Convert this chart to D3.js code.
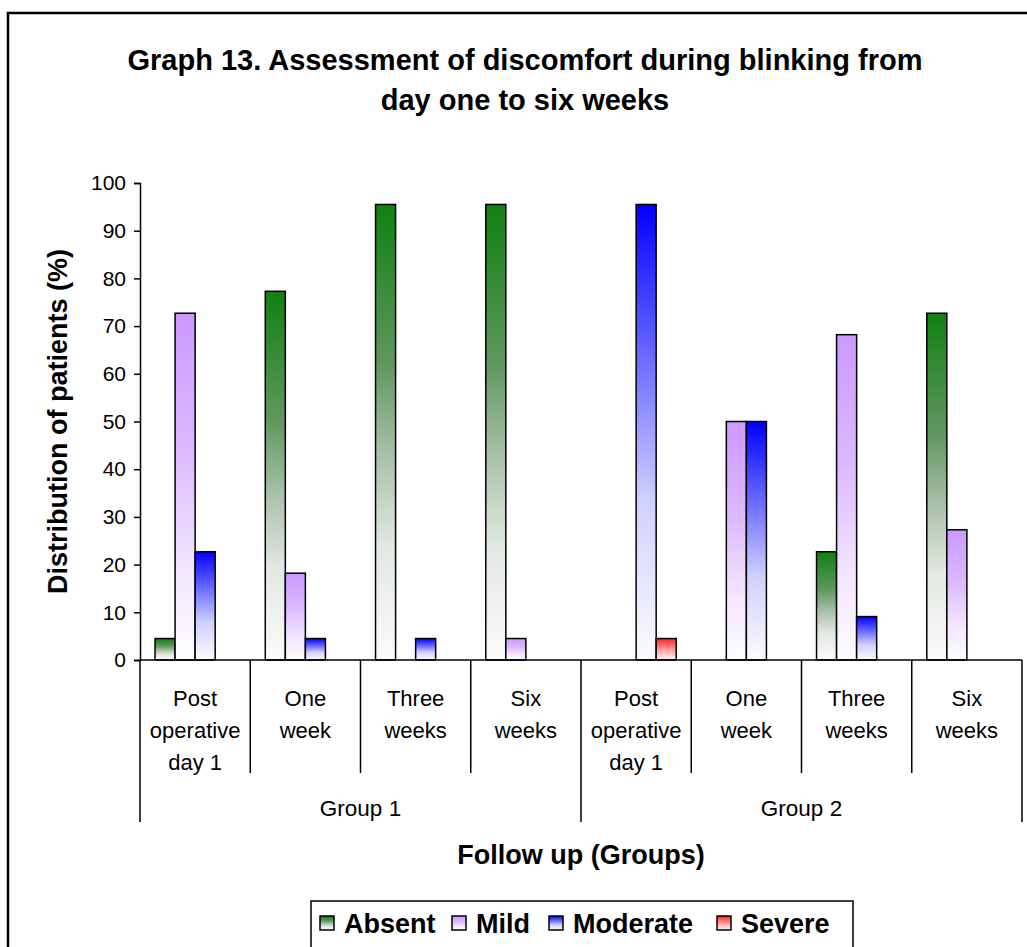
<!doctype html>
<html lang="en">
  <head>
    <meta charset="UTF-8" />
    <title>Graph 13</title>
    <script src="https://unpkg.com/d3@7.9.0/dist/d3.min.js"></script>
    <style>
      body {
        margin: 0;
        background: #fff;
        font-family: 'Liberation Sans', Arial, sans-serif;
      }
      .tick text {
        font-size: 21px;
        fill: #000;
      }
      .tick line,
      .domain {
        stroke: #000;
        stroke-width: 1.5px;
      }
    </style>
  </head>
  <body>
    <svg width="1027" height="947"></svg>
    <script>
      // data (percent of patients, n = 22 per group)
      const series = ['Absent', 'Mild', 'Moderate', 'Severe'];
      const groups = ['Group 1', 'Group 2'];
      const periods = [
        ['Post', 'operative', 'day 1'],
        ['One', 'week'],
        ['Three', 'weeks'],
        ['Six', 'weeks'],
      ];
      const absent = [4.5, 77.3, 95.5, 95.5, 0, 0, 22.7, 72.7];
      const mild = [72.7, 18.2, 0, 4.5, 0, 50, 68.2, 27.3];
      const moderate = [22.7, 4.5, 4.5, 0, 95.5, 50, 9.1, 0];
      const severe = [0, 0, 0, 0, 4.5, 0, 0, 0];
      const yTicks = [0, 10, 20, 30, 40, 50, 60, 70, 80, 90, 100];

      const values = [absent, mild, moderate, severe];
      const categories = [];
      groups.forEach((g) =>
        periods.forEach((p) => categories.push({ group: g, lines: p })),
      );

      const svg = d3.select('svg');
      const plotLeft = 140,
        plotRight = 1022,
        plotTop = 183,
        plotBottom = 660;

      // gradients, colour at top fading to white
      const gradStops = [
        [
          ['0%', '#118011'],
          ['35%', '#5f975f'],
          ['55%', '#a9c0a9'],
          ['75%', '#e2e8e2'],
          ['100%', '#fbfbfb'],
        ],
        [
          ['0%', '#cc99ff'],
          ['40%', '#dcb9ff'],
          ['75%', '#f3e8ff'],
          ['100%', '#fdfcff'],
        ],
        [
          ['0%', '#0000ff'],
          ['35%', '#6f6fff'],
          ['65%', '#d0d0ff'],
          ['100%', '#fbfbfd'],
        ],
        [
          ['0%', '#ff2020'],
          ['50%', '#ff9a9a'],
          ['100%', '#fff6f6'],
        ],
      ];
      const defs = svg.append('defs');
      gradStops.forEach((stops, i) => {
        const g = defs
          .append('linearGradient')
          .attr('id', 'grad' + i)
          .attr('x1', 0)
          .attr('y1', 0)
          .attr('x2', 0)
          .attr('y2', 1);
        stops.forEach((s) =>
          g.append('stop').attr('offset', s[0]).attr('stop-color', s[1]),
        );
      });

      svg
        .append('rect')
        .attr('width', 1027)
        .attr('height', 947)
        .attr('fill', '#fff');

      // outer frame
      svg
        .append('rect')
        .attr('x', 8)
        .attr('y', 13)
        .attr('width', 1040)
        .attr('height', 960)
        .attr('fill', 'none')
        .attr('stroke', '#000')
        .attr('stroke-width', 2.5);

      // title
      const title = svg
        .append('text')
        .attr('text-anchor', 'middle')
        .style('font-size', '29px')
        .style('font-weight', 'bold');
      title.append('tspan').attr('x', 525).attr('y', 70).text('Graph 13. Assessment of discomfort during blinking from');
      title.append('tspan').attr('x', 525).attr('y', 110).text('day one to six weeks');

      const y = d3.scaleLinear().domain([0, 100]).range([plotBottom, plotTop]);
      const x = d3
        .scaleBand()
        .domain(d3.range(categories.length))
        .range([plotLeft, plotRight]);
      const xs = d3
        .scaleBand()
        .domain(d3.range(series.length))
        .range([0, x.bandwidth()])
        .paddingOuter(0.75);

      // y axis
      svg
        .append('g')
        .attr('transform', `translate(${plotLeft},0)`)
        .call(
          d3.axisLeft(y).tickValues(yTicks).tickSize(6).tickPadding(8),
        );

      // bars
      values.forEach((vals, si) => {
        svg
          .append('g')
          .selectAll('rect')
          .data(vals.map((v, ci) => ({ v, ci })).filter((d) => d.v > 0))
          .join('rect')
          .attr('x', (d) => x(d.ci) + xs(si))
          .attr('y', (d) => y(d.v))
          .attr('width', xs.bandwidth())
          .attr('height', (d) => y(0) - y(d.v))
          .attr('fill', `url(#grad${si})`)
          .attr('stroke', '#000')
          .attr('stroke-width', 1.5);
      });

      // x axis line and category separators
      svg
        .append('line')
        .attr('x1', plotLeft)
        .attr('x2', plotRight)
        .attr('y1', plotBottom)
        .attr('y2', plotBottom)
        .attr('stroke', '#000')
        .attr('stroke-width', 1.5);
      const bounds = d3.range(categories.length + 1);
      svg
        .append('g')
        .selectAll('line')
        .data(bounds)
        .join('line')
        .attr('x1', (i) => plotLeft + i * x.step())
        .attr('x2', (i) => plotLeft + i * x.step())
        .attr('y1', plotBottom)
        .attr('y2', (i) => (i % periods.length === 0 ? 822 : 773))
        .attr('stroke', '#000')
        .attr('stroke-width', 1.5);

      // category labels
      const catText = svg
        .append('g')
        .selectAll('text')
        .data(categories)
        .join('text')
        .attr('text-anchor', 'middle')
        .style('font-size', '22px');
      catText
        .selectAll('tspan')
        .data((d, i) => d.lines.map((t) => ({ t, i })))
        .join('tspan')
        .attr('x', (d) => x(d.i) + x.bandwidth() / 2)
        .attr('y', (d, j) => 706 + j * 32)
        .text((d) => d.t);

      // group labels
      svg
        .append('g')
        .selectAll('text')
        .data(groups)
        .join('text')
        .attr('text-anchor', 'middle')
        .attr('x', (d, i) => plotLeft + (i + 0.5) * periods.length * x.step())
        .attr('y', 816)
        .style('font-size', '22.5px')
        .text((d) => d);

      // axis titles
      svg
        .append('text')
        .attr('text-anchor', 'middle')
        .attr('x', (plotLeft + plotRight) / 2)
        .attr('y', 864)
        .style('font-size', '27px')
        .style('font-weight', 'bold')
        .text('Follow up (Groups)');
      svg
        .append('text')
        .attr('text-anchor', 'middle')
        .attr('transform', `translate(67,${(plotTop + plotBottom) / 2}) rotate(-90)`)
        .style('font-size', '27px')
        .style('font-weight', 'bold')
        .text('Distribution of patients (%)');

      // legend
      const legendX = [320, 452, 549, 717];
      const legend = svg.append('g');
      legend
        .append('rect')
        .attr('x', 311)
        .attr('y', 901)
        .attr('width', 542)
        .attr('height', 50)
        .attr('fill', '#fff')
        .attr('stroke', '#000')
        .attr('stroke-width', 1.5);
      series.forEach((s, i) => {
        legend
          .append('rect')
          .attr('x', legendX[i])
          .attr('y', 916)
          .attr('width', 14)
          .attr('height', 14)
          .attr('fill', `url(#grad${i})`)
          .attr('stroke', '#000')
          .attr('stroke-width', 1.5);
        legend
          .append('text')
          .attr('x', legendX[i] + 24)
          .attr('y', 933)
          .style('font-size', '27px')
          .style('font-weight', 'bold')
          .text(s);
      });
    </script>
  </body>
</html>
